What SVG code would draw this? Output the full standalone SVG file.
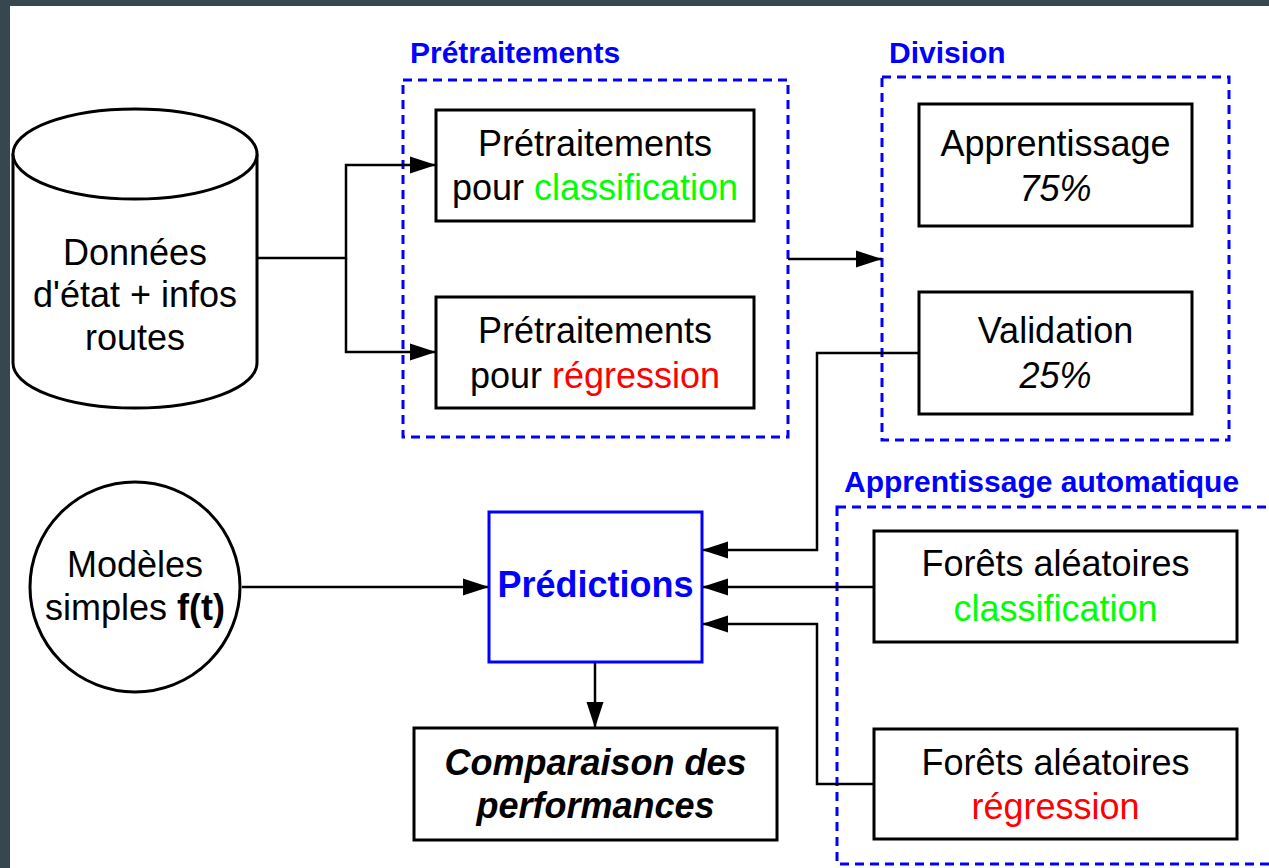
<svg xmlns="http://www.w3.org/2000/svg" width="1269" height="868" viewBox="0 0 1269 868">
<defs>
<style>
.bg{fill:#37474f}
.node{fill:#fff;stroke:#000;stroke-width:3}
.grp{fill:none;stroke:#0000ff;stroke-width:3;stroke-dasharray:9 6}
.edge{fill:none;stroke:#000;stroke-width:2.5}
.t{font-family:"Liberation Sans",Arial,sans-serif;font-size:36px;fill:#000;text-anchor:middle}
.title{font-family:"Liberation Sans",Arial,sans-serif;font-size:30px;font-weight:bold;fill:#0000ff}
.green{fill:#00ff00}
.red{fill:#ff0000}
</style>
<marker id="arr" markerUnits="userSpaceOnUse" markerWidth="26" markerHeight="18" refX="26" refY="9" orient="auto">
<path d="M0,0.5 L26,9 L0,17.5 z" fill="#000"/>
</marker>
</defs>
<rect x="0" y="0" width="1269" height="868" fill="#fff"/>
<rect class="bg" x="0" y="0" width="1269" height="6"/>
<rect class="bg" x="0" y="0" width="10" height="868"/>

<g id="group-pretraitements">
<rect class="grp" x="403" y="80" width="385" height="357"/>
<text class="title" x="410" y="63">Prétraitements</text>
</g>
<g id="group-division">
<rect class="grp" x="882" y="77" width="347" height="363"/>
<text class="title" x="889" y="63">Division</text>
</g>
<g id="group-apprentissage-automatique">
<rect class="grp" x="837" y="507" width="450" height="357"/>
<text class="title" x="844" y="492">Apprentissage automatique</text>
</g>

<g id="connectors">
<path class="edge" d="M257,258 H346 V165 H436" marker-end="url(#arr)"/>
<path class="edge" d="M346,258 V352 H436" marker-end="url(#arr)"/>
<path class="edge" d="M788,259 H882" marker-end="url(#arr)"/>
<path class="edge" d="M919,353 H817 V550 H702" marker-end="url(#arr)"/>
<path class="edge" d="M875,587 H702" marker-end="url(#arr)"/>
<path class="edge" d="M875,784 H817 V624 H702" marker-end="url(#arr)"/>
<path class="edge" d="M242,587 H489" marker-end="url(#arr)"/>
<path class="edge" d="M595,662 V728" marker-end="url(#arr)"/>
</g>

<g id="node-donnees">
<path class="node" d="M13,154 V363 A122,45 0 0 0 257,363 V154"/>
<ellipse class="node" cx="135" cy="154" rx="122" ry="45"/>
<text class="t" x="135" y="265">Données</text>
<text class="t" x="135" y="307">d'état + infos</text>
<text class="t" x="135" y="350">routes</text>
</g>

<g id="node-pretraitement-classification">
<rect class="node" x="436" y="110" width="318" height="111"/>
<text class="t" x="595" y="156">Prétraitements</text>
<text class="t" x="595" y="200">pour <tspan class="green">classification</tspan></text>
</g>

<g id="node-pretraitement-regression">
<rect class="node" x="436" y="297" width="318" height="111"/>
<text class="t" x="595" y="343">Prétraitements</text>
<text class="t" x="595" y="388">pour <tspan class="red">régression</tspan></text>
</g>

<g id="node-apprentissage">
<rect class="node" x="919" y="104" width="273" height="122"/>
<text class="t" x="1055.5" y="156">Apprentissage</text>
<text class="t" x="1055.5" y="201" font-style="italic">75%</text>
</g>

<g id="node-validation">
<rect class="node" x="919" y="292" width="273" height="122"/>
<text class="t" x="1055.5" y="343">Validation</text>
<text class="t" x="1055.5" y="388" font-style="italic">25%</text>
</g>

<g id="node-modeles">
<circle class="node" cx="135" cy="587" r="105"/>
<text class="t" x="135" y="577">Modèles</text>
<text class="t" x="135" y="620">simples <tspan font-weight="bold">f(t)</tspan></text>
</g>

<g id="node-predictions">
<rect x="489" y="512" width="213" height="150" fill="#fff" stroke="#0000ff" stroke-width="3"/>
<text class="t" x="595.5" y="597" font-weight="bold" style="fill:#0000ff">Prédictions</text>
</g>

<g id="node-comparaison">
<rect class="node" x="414" y="728" width="363" height="112"/>
<text class="t" x="595.5" y="775" font-weight="bold" font-style="italic">Comparaison des</text>
<text class="t" x="595.5" y="818" font-weight="bold" font-style="italic">performances</text>
</g>

<g id="node-forets-classification">
<rect class="node" x="874" y="531" width="363" height="111"/>
<text class="t" x="1055.5" y="576">Forêts aléatoires</text>
<text class="t green" x="1055.5" y="621">classification</text>
</g>

<g id="node-forets-regression">
<rect class="node" x="874" y="729" width="363" height="110"/>
<text class="t" x="1055.5" y="775">Forêts aléatoires</text>
<text class="t red" x="1055.5" y="819">régression</text>
</g>
</svg>
